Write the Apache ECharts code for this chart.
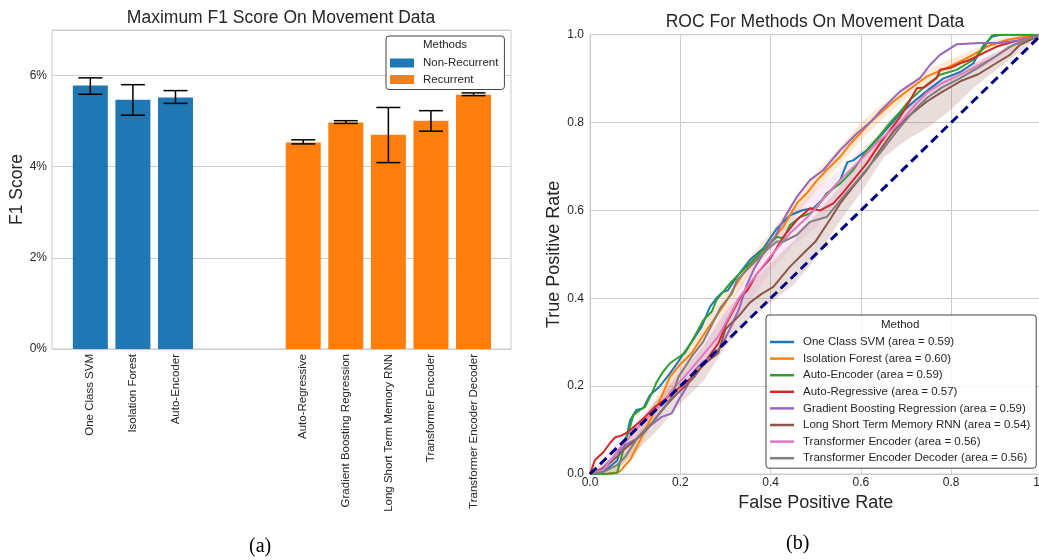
<!DOCTYPE html>
<html>
<head>
<meta charset="utf-8">
<script src="https://cdn.jsdelivr.net/npm/echarts@6/dist/echarts.min.js"></script>
<style>html,body{margin:0;padding:0;background:#fff;}#c{width:1039px;height:560px;}</style>
</head>
<body>
<div id="c"></div>
<script>
// ---------- Panel (a): bar chart data ----------
const barCategories = ['One Class SVM', 'Isolation Forest', 'Auto-Encoder',
  'Auto-Regressive', 'Gradient Boosting Regression', 'Long Short Term Memory RNN',
  'Transformer Encoder', 'Transformer Encoder Decoder'];
const barSlots = [0, 1, 2, 5, 6, 7, 8, 9]; // category slots (two empty slots between groups)
const nonRecurrentF1 = [5.78, 5.47, 5.52];
const nonRecurrentLow = [5.59, 5.13, 5.39];
const nonRecurrentHigh = [5.95, 5.80, 5.67];
const recurrentF1 = [4.53, 4.97, 4.70, 5.01, 5.58];
const recurrentLow = [4.50, 4.95, 4.09, 4.78, 5.56];
const recurrentHigh = [4.59, 5.01, 5.30, 5.23, 5.62];
const f1Ticks = [0, 2, 4, 6];

// ---------- Panel (b): ROC curves ----------
const rocNames = ['One Class SVM (area = 0.59)', 'Isolation Forest (area = 0.60)',
  'Auto-Encoder (area = 0.59)', 'Auto-Regressive (area = 0.57)',
  'Gradient Boosting Regression (area = 0.59)', 'Long Short Term Memory RNN (area = 0.54)',
  'Transformer Encoder (area = 0.56)', 'Transformer Encoder Decoder (area = 0.56)'];
const rocColors = ['#1f77b4', '#ff7f0e', '#2ca02c', '#d62728', '#9467bd', '#8c564b', '#e377c2', '#7f7f7f'];

const rocOCSVM = [[0,0],[0.03,0.005],[0.06,0.03],[0.072,0.07],[0.081,0.085],[0.089,0.123],[0.103,0.146],[0.118,0.15],[0.133,0.18],[0.155,0.2],[0.177,0.229],[0.195,0.255],[0.21,0.278],[0.228,0.305],[0.247,0.335],[0.266,0.381],[0.28,0.4],[0.292,0.413],[0.305,0.418],[0.325,0.449],[0.354,0.487],[0.384,0.514],[0.414,0.559],[0.443,0.589],[0.472,0.601],[0.495,0.605],[0.52,0.63],[0.554,0.669],[0.57,0.71],[0.583,0.714],[0.613,0.737],[0.642,0.768],[0.687,0.82],[0.72,0.85],[0.75,0.875],[0.782,0.9],[0.82,0.915],[0.849,0.935],[0.871,0.975],[0.89,0.995],[0.91,1.0],[1,1]];
const rocIForest = [[0,0],[0.04,0],[0.065,0.005],[0.089,0.032],[0.111,0.077],[0.133,0.123],[0.155,0.168],[0.177,0.221],[0.2,0.25],[0.225,0.275],[0.26,0.33],[0.299,0.388],[0.32,0.425],[0.34,0.457],[0.384,0.51],[0.41,0.54],[0.428,0.563],[0.458,0.616],[0.48,0.639],[0.5,0.665],[0.524,0.692],[0.554,0.722],[0.575,0.75],[0.598,0.775],[0.62,0.8],[0.642,0.82],[0.672,0.848],[0.7,0.87],[0.746,0.905],[0.78,0.92],[0.82,0.939],[0.85,0.955],[0.879,0.973],[0.923,0.988],[0.967,0.996],[1,1]];
const rocAE = [[0,0],[0.03,0],[0.06,0.002],[0.07,0.04],[0.08,0.08],[0.089,0.108],[0.096,0.134],[0.111,0.146],[0.122,0.153],[0.137,0.184],[0.148,0.21],[0.162,0.233],[0.177,0.252],[0.192,0.263],[0.21,0.275],[0.23,0.31],[0.251,0.35],[0.27,0.37],[0.28,0.396],[0.31,0.434],[0.33,0.455],[0.354,0.479],[0.384,0.51],[0.414,0.54],[0.428,0.536],[0.443,0.567],[0.465,0.585],[0.487,0.593],[0.505,0.61],[0.524,0.639],[0.554,0.661],[0.583,0.692],[0.613,0.737],[0.642,0.77],[0.665,0.8],[0.687,0.825],[0.709,0.852],[0.746,0.886],[0.775,0.909],[0.812,0.92],[0.849,0.943],[0.871,0.969],[0.89,0.998],[0.9,1],[1,1]];
const rocAR = [[0,0],[0.011,0.032],[0.03,0.05],[0.044,0.07],[0.055,0.083],[0.07,0.088],[0.085,0.096],[0.1,0.11],[0.122,0.13],[0.144,0.153],[0.16,0.165],[0.173,0.176],[0.19,0.19],[0.21,0.206],[0.23,0.225],[0.247,0.244],[0.265,0.27],[0.284,0.297],[0.303,0.345],[0.332,0.4],[0.35,0.42],[0.369,0.455],[0.399,0.49],[0.428,0.54],[0.458,0.578],[0.487,0.605],[0.51,0.6],[0.539,0.616],[0.56,0.64],[0.583,0.669],[0.613,0.707],[0.642,0.752],[0.687,0.813],[0.7,0.835],[0.724,0.878],[0.74,0.88],[0.768,0.901],[0.775,0.92],[0.797,0.924],[0.82,0.935],[0.842,0.943],[0.871,0.958],[0.901,0.973],[0.945,0.986],[1,1]];
const rocGBR = [[0,0],[0.02,0.005],[0.044,0.03],[0.066,0.055],[0.085,0.07],[0.103,0.08],[0.12,0.1],[0.133,0.11],[0.159,0.13],[0.181,0.138],[0.196,0.168],[0.215,0.2],[0.233,0.237],[0.25,0.255],[0.27,0.267],[0.29,0.29],[0.31,0.33],[0.33,0.375],[0.347,0.43],[0.365,0.47],[0.384,0.502],[0.41,0.54],[0.428,0.578],[0.458,0.631],[0.487,0.669],[0.517,0.692],[0.554,0.737],[0.591,0.775],[0.62,0.8],[0.642,0.825],[0.687,0.871],[0.731,0.901],[0.753,0.931],[0.775,0.954],[0.812,0.978],[0.864,0.981],[0.908,0.981],[0.945,0.986],[1,1]];
const rocLSTM = [[0,0],[0.033,0.015],[0.06,0.04],[0.08,0.06],[0.1,0.077],[0.12,0.095],[0.137,0.115],[0.155,0.14],[0.173,0.161],[0.19,0.18],[0.21,0.199],[0.23,0.22],[0.247,0.244],[0.265,0.26],[0.284,0.275],[0.3,0.33],[0.33,0.36],[0.354,0.39],[0.38,0.41],[0.406,0.426],[0.443,0.472],[0.48,0.51],[0.5,0.53],[0.532,0.58],[0.554,0.616],[0.583,0.654],[0.613,0.692],[0.642,0.737],[0.672,0.78],[0.7,0.81],[0.746,0.848],[0.78,0.87],[0.82,0.894],[0.86,0.91],[0.893,0.931],[0.93,0.954],[0.952,0.977],[1,1]];
const rocTE = [[0,0],[0.03,0.01],[0.063,0.055],[0.08,0.075],[0.1,0.1],[0.137,0.138],[0.16,0.16],[0.181,0.191],[0.21,0.222],[0.247,0.267],[0.284,0.313],[0.314,0.37],[0.33,0.4],[0.354,0.434],[0.399,0.495],[0.443,0.548],[0.487,0.59],[0.52,0.63],[0.554,0.669],[0.598,0.714],[0.642,0.76],[0.687,0.8],[0.72,0.84],[0.746,0.868],[0.78,0.89],[0.82,0.909],[0.86,0.93],[0.893,0.947],[0.937,0.976],[0.967,0.99],[1,1]];
const rocTED = [[0,0],[0.03,0.005],[0.06,0.02],[0.078,0.039],[0.107,0.085],[0.137,0.115],[0.16,0.145],[0.181,0.176],[0.196,0.221],[0.225,0.267],[0.25,0.3],[0.27,0.34],[0.29,0.38],[0.314,0.41],[0.325,0.441],[0.369,0.487],[0.399,0.517],[0.414,0.529],[0.428,0.529],[0.458,0.544],[0.487,0.574],[0.524,0.585],[0.554,0.623],[0.598,0.676],[0.642,0.73],[0.687,0.79],[0.72,0.83],[0.746,0.856],[0.78,0.88],[0.82,0.901],[0.86,0.925],[0.893,0.947],[0.93,0.973],[0.982,0.995],[1,1]];
const rocCurves = [rocOCSVM, rocIForest, rocAE, rocAR, rocGBR, rocLSTM, rocTE, rocTED];

// confidence bands [fpr, lower, upper]
const bandLSTM = [[0,0,0],[0.05,0,0.04],[0.1,0.05,0.11],[0.15,0.1,0.17],[0.2,0.16,0.23],[0.25,0.21,0.29],[0.3,0.29,0.37],[0.35,0.35,0.43],[0.4,0.39,0.48],[0.45,0.43,0.53],[0.5,0.49,0.59],[0.55,0.57,0.65],[0.6,0.64,0.72],[0.65,0.72,0.79],[0.7,0.76,0.84],[0.75,0.79,0.875],[0.8,0.83,0.905],[0.85,0.88,0.935],[0.9,0.92,0.96],[0.95,0.96,0.985],[1,1,1]];
const bandIForest = [[0,0,0],[0.05,0,0.01],[0.1,0.04,0.08],[0.15,0.14,0.18],[0.2,0.23,0.27],[0.25,0.3,0.34],[0.3,0.37,0.41],[0.35,0.45,0.49],[0.4,0.51,0.55],[0.45,0.58,0.62],[0.5,0.645,0.685],[0.55,0.7,0.74],[0.6,0.76,0.8],[0.65,0.81,0.845],[0.7,0.855,0.885],[0.75,0.89,0.92],[0.8,0.92,0.945],[0.85,0.945,0.965],[0.9,0.97,0.99],[0.95,0.985,1],[1,1,1]];
const bandTE = [[0,0,0],[0.05,0.02,0.06],[0.1,0.08,0.12],[0.15,0.13,0.17],[0.2,0.19,0.24],[0.25,0.24,0.3],[0.3,0.31,0.37],[0.35,0.39,0.46],[0.4,0.46,0.53],[0.45,0.52,0.6],[0.5,0.56,0.65],[0.55,0.63,0.69],[0.6,0.69,0.74],[0.65,0.74,0.78],[0.7,0.8,0.83],[0.75,0.855,0.885],[0.8,0.89,0.91],[0.85,0.915,0.935],[0.9,0.94,0.96],[0.95,0.975,0.99],[1,1,1]];

const FONT = '"Liberation Sans", Arial, sans-serif';
const TXT = '#262626';
const GRIDC = '#cccccc';

const chart = echarts.init(document.getElementById('c'), null, {renderer: 'canvas'});

function errorRender(params, api) {
  const x = api.value(0);
  const lo = api.coord([x, api.value(1)]);
  const hi = api.coord([x, api.value(2)]);
  const cap = 12;
  const st = {stroke: '#000', lineWidth: 1.5};
  return {type: 'group', children: [
    {type: 'line', shape: {x1: lo[0], y1: lo[1], x2: hi[0], y2: hi[1]}, style: st},
    {type: 'line', shape: {x1: lo[0] - cap, y1: lo[1], x2: lo[0] + cap, y2: lo[1]}, style: st},
    {type: 'line', shape: {x1: hi[0] - cap, y1: hi[1], x2: hi[0] + cap, y2: hi[1]}, style: st}
  ]};
}
function bandRenderer(band, color) {
  return function (params, api) {
    if (params.dataIndex !== 0) return null;
    const pts = [];
    band.forEach(b => pts.push(api.coord([b[0], b[2]])));
    for (let i = band.length - 1; i >= 0; i--) pts.push(api.coord([band[i][0], band[i][1]]));
    return {type: 'polygon', shape: {points: pts}, style: {fill: color}};
  };
}

const errData = [];
barSlots.slice(0, 3).forEach((s, i) => errData.push([s, nonRecurrentLow[i], nonRecurrentHigh[i]]));
barSlots.slice(3).forEach((s, i) => errData.push([s, recurrentLow[i], recurrentHigh[i]]));

const series = [
  {name: 'Non-Recurrent', type: 'bar', xAxisIndex: 0, yAxisIndex: 0, barWidth: 35, barGap: '-100%',
   itemStyle: {color: '#1f77b4'}, data: nonRecurrentF1.map((v, i) => [barSlots[i], v])},
  {name: 'Recurrent', type: 'bar', xAxisIndex: 0, yAxisIndex: 0, barWidth: 35, barGap: '-100%',
   itemStyle: {color: '#ff7f0e'}, data: recurrentF1.map((v, i) => [barSlots[3 + i], v])},
  {name: 'err', type: 'custom', xAxisIndex: 0, yAxisIndex: 0, renderItem: errorRender, data: errData, z: 5, silent: true},
  {name: 'bandLSTM', type: 'custom', xAxisIndex: 1, yAxisIndex: 1, data: [[0, 0]], z: 1, silent: true,
   renderItem: bandRenderer(bandLSTM, 'rgba(140,86,75,0.2)')},
  {name: 'bandIForest', type: 'custom', xAxisIndex: 1, yAxisIndex: 1, data: [[0, 0]], z: 1, silent: true,
   renderItem: bandRenderer(bandIForest, 'rgba(255,127,14,0.18)')},
  {name: 'bandTE', type: 'custom', xAxisIndex: 1, yAxisIndex: 1, data: [[0, 0]], z: 1, silent: true,
   renderItem: bandRenderer(bandTE, 'rgba(227,119,194,0.15)')}
];
rocCurves.forEach((c, i) => series.push({
  name: rocNames[i], type: 'line', xAxisIndex: 1, yAxisIndex: 1, data: c, symbol: 'none', z: 3,
  lineStyle: {width: 2, color: rocColors[i]}, itemStyle: {color: rocColors[i]}
}));
series.push({name: 'chance', type: 'line', xAxisIndex: 1, yAxisIndex: 1, data: [[0, 0], [1, 1]], symbol: 'none', z: 6,
  lineStyle: {width: 3, color: '#000080', type: [9, 5]}});

const option = {
  backgroundColor: '#fff',
  animation: false,
  title: [
    {text: 'Maximum F1 Score On Movement Data', left: 281, top: 9, textAlign: 'center', padding: 0,
     textStyle: {fontFamily: FONT, fontSize: 17.5, fontWeight: 'normal', color: TXT}},
    {text: 'ROC For Methods On Movement Data', left: 815, top: 13.5, textAlign: 'center', padding: 0,
     textStyle: {fontFamily: FONT, fontSize: 17.5, fontWeight: 'normal', color: TXT}}
  ],
  grid: [
    {left: 52, top: 30, width: 459, height: 319, show: true, borderColor: GRIDC, borderWidth: 1,
     containLabel: false, outerBoundsMode: 'none'},
    {left: 590, top: 34.7, width: 451.5, height: 439.3, show: true, borderColor: GRIDC, borderWidth: 1,
     containLabel: false, outerBoundsMode: 'none'}
  ],
  xAxis: [
    {type: 'value', gridIndex: 0, min: -0.9, max: 9.88,
     axisLine: {show: false}, axisTick: {show: false}, splitLine: {show: false},
     axisLabel: {customValues: barSlots, rotate: 90, margin: 5, fontFamily: FONT, fontSize: 11.5, color: TXT,
       formatter: v => { const k = barSlots.indexOf(Math.round(v)); return k >= 0 ? barCategories[k] : ''; }}},
    {type: 'value', gridIndex: 1, min: 0, max: 1, interval: 0.2,
     name: 'False Positive Rate', nameLocation: 'middle', nameGap: 18,
     nameTextStyle: {fontFamily: FONT, fontSize: 18, color: TXT},
     axisLine: {show: false}, axisTick: {show: false},
     splitLine: {show: true, lineStyle: {color: GRIDC, width: 1}},
     axisLabel: {margin: 3, fontFamily: FONT, fontSize: 12, color: TXT, formatter: v => v.toFixed(1)}}
  ],
  yAxis: [
    {type: 'value', gridIndex: 0, min: 0, max: 7, interval: 2,
     name: 'F1 Score', nameLocation: 'middle', nameGap: 26,
     nameTextStyle: {fontFamily: FONT, fontSize: 17.5, color: TXT},
     axisLine: {show: false}, axisTick: {show: false},
     splitLine: {show: true, lineStyle: {color: GRIDC, width: 1}},
     axisLabel: {margin: 5, showMaxLabel: false, fontFamily: FONT, fontSize: 12, color: TXT,
       formatter: v => (f1Ticks.indexOf(v) >= 0 ? v + '%' : '')}},
    {type: 'value', gridIndex: 1, min: 0, max: 1, interval: 0.2,
     name: 'True Positive Rate', nameLocation: 'middle', nameGap: 25,
     nameTextStyle: {fontFamily: FONT, fontSize: 18, color: TXT},
     axisLine: {show: false}, axisTick: {show: false},
     splitLine: {show: true, lineStyle: {color: GRIDC, width: 1}},
     axisLabel: {margin: 6, fontFamily: FONT, fontSize: 12, color: TXT, formatter: v => v.toFixed(1)}}
  ],
  legend: [
    {data: ['Non-Recurrent', 'Recurrent'], orient: 'vertical', left: 386, top: 36,
     padding: [21, 6, 4, 4], itemGap: 4.5, itemWidth: 24, itemHeight: 9, icon: 'rect',
     borderColor: '#444', borderWidth: 1, borderRadius: 3, backgroundColor: '#fff',
     textStyle: {fontFamily: FONT, fontSize: 11.5, color: TXT, padding: [0, 0, 0, 4]}},
    {data: rocNames, orient: 'vertical', left: 766, top: 315,
     padding: [21, 6, 4, 4], itemGap: 4.6, itemWidth: 24, itemHeight: 2.5, icon: 'rect',
     borderColor: '#444', borderWidth: 1, borderRadius: 3, backgroundColor: 'rgba(255,255,255,0.85)',
     textStyle: {fontFamily: FONT, fontSize: 11.5, color: TXT, padding: [0, 0, 0, 4]}}
  ],
  graphic: [
    {type: 'text', left: 423, top: 39, z: 100, style: {text: 'Methods', fontFamily: FONT, fontSize: 11.5, fill: TXT}},
    {type: 'text', left: 881, top: 319, z: 100, style: {text: 'Method', fontFamily: FONT, fontSize: 11.5, fill: TXT}},
    {type: 'text', left: 249, top: 537, style: {text: '(a)', fontFamily: '"Liberation Serif", "Times New Roman", serif', fontSize: 20, fill: '#000'}},
    {type: 'text', left: 786, top: 534, style: {text: '(b)', fontFamily: '"Liberation Serif", "Times New Roman", serif', fontSize: 20, fill: '#000'}}
  ],
  series: series
};
chart.setOption(option);
</script>
</body>
</html>
